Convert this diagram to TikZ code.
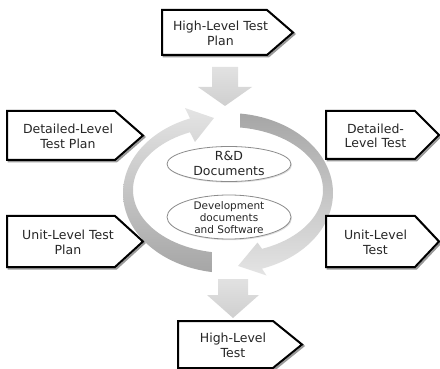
\documentclass[tikz,border=0pt]{standalone}
\usepackage{fontspec}
\setmainfont{DejaVu Sans}
\usetikzlibrary{shapes.geometric,shadows}
\definecolor{ringlight}{HTML}{E4E4E4}
\definecolor{ringdark}{HTML}{A6A6A6}
\definecolor{downgray}{HTML}{DADADA}
\definecolor{ellborder}{HTML}{8C8C8C}
\tikzset{
  boxline/.style={draw=black, line width=2pt, fill=white, line join=miter},
  boxshadow/.style={draw=black!40, line width=2pt, line join=miter},
  boxtext/.style={font=\fontsize{12.5}{14.5}\selectfont, align=center, text=black!85, inner sep=0pt},
  elltext/.style={align=center, text=black!85, inner sep=0pt},
  ellbox/.style={ellipse, draw=ellborder, line width=0.8pt, fill=white, inner sep=0pt,
    drop shadow={opacity=0.25, shadow xshift=1pt, shadow yshift=-1.2pt}},
  downarrow/.style={top color=downgray!80!white, bottom color=downgray!95!black},
  ringleft/.style={top color=ringlight, middle color=ringlight!85!ringdark, bottom color=ringdark},
  ringright/.style={top color=ringdark, middle color=ringlight!70!ringdark, bottom color=ringlight},
}
\newcommand\pentabox[7]{%
  \draw[boxshadow] ({#2+1.5},{#3+1.5}) -- ({#4+1.5},{#3+1.5}) -- ({#6+1.5},{(#3+#5)/2+1.5}) -- ({#4+1.5},{#5+1.5}) -- ({#2+1.5},{#5+1.5}) -- cycle;
  \draw[boxline] (#2,#3) -- (#4,#3) -- (#6,{(#3+#5)/2}) -- (#4,#5) -- (#2,#5) -- cycle;
  \node[boxtext] (#1) at ({(#2+#6)/2-7},{(#3+#5)/2+1}) {#7};
}
\begin{document}
\begin{tikzpicture}[x=1pt, y=-1pt]
\useasboundingbox (0,0) rectangle (440,369);
% ring arrows
\path[ringleft]
  plot[domain=261.2:111.2, samples=90] ({228+105*cos(\x)},{193-80*sin(\x)})
  -- (185,108) -- (214,118) -- (195,142)
  -- plot[domain=113.6:260.3, samples=90] ({228+95*cos(\x)},{190-63*sin(\x)}) -- cycle;
\path[ringright]
  plot[domain=83.4:-71.1, samples=90] ({228+105*cos(\x)},{193-80*sin(\x)})
  -- (266.5,275.5) -- (238,266) -- (257.5,242.5)
  -- plot[domain=-69.0:82.7, samples=90] ({228+95*cos(\x)},{190-63*sin(\x)}) -- cycle;
% down arrows
\path[downarrow] (212,67) -- (238,67) -- (238,87) -- (252,87) -- (225,106) -- (198,87) -- (212,87) -- cycle;
\path[downarrow] (218,279) -- (248,279) -- (248,295) -- (259,295) -- (233,318) -- (207,295) -- (218,295) -- cycle;
% ellipses
\node[ellbox, minimum width=124pt, minimum height=35pt] (rd) at (229,164) {};
\node[elltext, font=\fontsize{12.5}{15}\selectfont] (rdtext) at (229,163) {R\&D\\Documents};
\node[ellbox, minimum width=124pt, minimum height=44pt] (dev) at (229,217) {};
\node[elltext, font=\fontsize{10.5}{12}\selectfont] (devtext) at (229,218) {Development\\documents\\and Software};
% boxes
\pentabox{hltp}{162}{10}{267}{55}{293}{High-Level Test\\Plan}
\pentabox{dltp}{7}{111}{115}{160}{143}{Detailed-Level\\Test Plan}
\pentabox{dlt}{326}{111}{415}{159}{439}{Detailed-\\Level Test}
\pentabox{ultp}{7}{216}{115}{267}{143}{Unit-Level Test\\Plan}
\pentabox{ult}{326}{216}{415}{267}{439}{Unit-Level\\Test}
\pentabox{hlt}{178}{321}{273}{368}{302}{High-Level\\Test}
\end{tikzpicture}
\end{document}
